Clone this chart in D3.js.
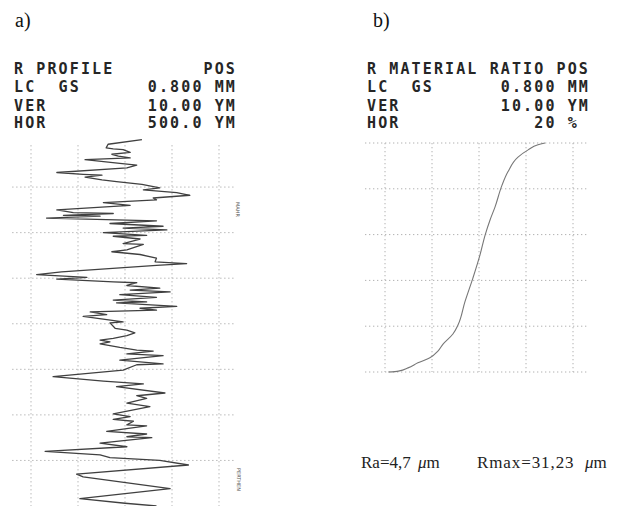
<!DOCTYPE html>
<html>
<head>
<meta charset="utf-8">
<script src="https://cdn.jsdelivr.net/npm/d3@7/dist/d3.min.js"></script>
<style>
  html, body { margin: 0; padding: 0; background: #fff; }
  svg { display: block; }
  .hdr { font-family: "DejaVu Sans Mono", monospace; font-size: 15px; font-weight: bold; letter-spacing: 2.12px; white-space: pre; fill: #262626; }
  .lbl { font-family: "Liberation Serif", "Times New Roman", serif; font-size: 20px; fill: #111; }
  .res { font-family: "Liberation Serif", "Times New Roman", serif; font-size: 17px; fill: #222; }
  .tiny { font-family: "DejaVu Sans", sans-serif; font-size: 5px; fill: #555; }
</style>
</head>
<body>
<script>
// ---------- data ----------
// panel a) roughness profile: length along trace (mm) and amplitude (µm)
const profileLen = [-0.02,0.03,0.07,0.08,0.09,0.12,0.14,0.16,0.18,0.20,0.24,0.26,0.29,0.34,0.36,0.37,0.39,0.42,0.44,0.47,
  0.51,0.53,0.56,0.59,0.62,0.64,0.67,0.70,0.75,0.78,0.79,0.81,0.82,0.84,0.87,0.90,0.93,0.95,0.97,1.00,
  1.03,1.04,1.07,1.12,1.13,1.19,1.21,1.24,1.28,1.32,1.34,1.36,1.43,1.46,1.49,1.51,1.54,1.55,1.58,1.61,
  1.63,1.65,1.68,1.71,1.74,1.76,1.77,1.81,1.83,1.85,1.87,1.90,1.92,1.98,1.99,2.05,2.07,2.10,2.13,2.16,
  2.18,2.20,2.22,2.26,2.29,2.30,2.33,2.35,2.40,2.44,2.45,2.51,2.58,2.63,2.66,2.69,2.76,2.79,2.82,2.87,
  2.91,2.99,3.02,3.05,3.07,3.11,3.12,3.18,3.21,3.24,3.25,3.31,3.35,3.40,3.44,3.47,3.50,3.55,3.65,3.68,
  3.81,3.92,3.97,4.00];
const profileAmp = [3.6,-3.6,-4.0,-2.5,-0.4,1.1,-2.8,-1.4,1.1,-8.5,-1.1,2.5,0.4,-14.5,-8.9,-4.9,-8.5,-4.9,-1.8,3.6,
  7.4,3.9,11.0,13.8,6.0,6.7,-4.6,1.1,-14.5,-11.0,-2.5,-13.1,-5.3,-16.7,6.7,-3.2,8.1,-0.4,8.9,-4.6,
  4.6,-2.5,3.2,-0.4,3.9,0.4,-2.8,3.2,6.7,6.4,13.1,6.7,-13.5,-18.8,-8.1,-14.5,-2.5,2.5,0.4,7.4,
  1.1,9.6,-1.1,6.7,-2.5,4.6,-1.8,11.0,3.2,6.7,-7.4,-3.9,-8.9,-0.4,-3.2,-2.1,0.4,2.1,0.4,-2.5,
  -5.3,-3.2,-5.3,-1.1,2.5,6.0,0.4,8.1,-1.1,8.1,2.5,-0.4,-15.3,-4.6,3.9,-1.8,8.5,2.5,4.6,0.4,
  5.3,-2.5,1.1,-2.5,1.8,0.4,4.6,-3.9,4.6,0.4,5.7,-5.3,0.4,-17.0,-5.3,-3.2,7.4,13.5,-10.3,-8.9,
  9.6,-9.6,0.0,6.7];
const profAmpTicks = [-20, -10, 0, 10, 20];
const profLenTicks = [0.5, 1.0, 1.5, 2.0, 2.5, 3.0, 3.5];

// panel b) material ratio curve: material ratio (%) and depth (µm)
const ratioPct   = [1.4,5.7,9.8,14.0,19.1,22.6,24.7,28.9,31.1,34.0,37.4,40.4,42.6,44.7,46.8,49.8,52.3,56.6,60.9,65.1,68.1];
const ratioDepth = [50.0,49.8,49.1,48.0,46.9,45.4,43.9,41.7,39.7,34.7,29.5,24.5,20.1,16.8,14.0,9.2,6.3,3.1,1.5,0.4,0.0];
const ratioPctTicks = [0, 20, 40, 60, 80];
const ratioDepthTicks = [0, 10, 20, 30, 40, 50];

const headerA = ["R PROFILE        POS", "LC  GS      0.800 MM", "VER         10.00 YM", "HOR         500.0 YM"];
const headerB = ["R MATERIAL RATIO POS", "LC  GS      0.800 MM", "VER         10.00 YM", "HOR            20 %"];
const resultRa = ["Ra=4,7", "\u03bc", "m"];
const resultRmax = ["Rmax=31,23", "\u03bc", "m"];

// ---------- drawing ----------
const W = 617, H = 506;
const svg = d3.select("body").append("svg").attr("width", W).attr("height", H);
svg.append("rect").attr("width", W).attr("height", H).attr("fill", "#fff");

const gridStyle = sel => sel.attr("stroke", "#b0b0b0").attr("stroke-width", 1)
  .attr("stroke-dasharray", "1.3,2.7").attr("fill", "none");

// panel labels
svg.append("text").attr("class", "lbl").attr("x", 15).attr("y", 27).text("a)");
svg.append("text").attr("class", "lbl").attr("x", 373).attr("y", 27).text("b)");

// headers
const baselines = [74, 92, 110.5, 128.3];
svg.selectAll(".hA").data(headerA).join("text").attr("class", "hdr")
  .attr("x", 14).attr("y", (d, i) => baselines[i]).text(d => d);
svg.selectAll(".hB").data(headerB).join("text").attr("class", "hdr")
  .attr("x", 367).attr("y", (d, i) => baselines[i]).text(d => d);

// ----- panel a -----
const xA = d3.scaleLinear().domain([-20, 20]).range([31, 219]);
const yA = d3.scaleLinear().domain([0, 4]).range([141.5, 506]);
const gA = svg.append("g");
gA.selectAll(".vg").data(profAmpTicks).join("line")
  .attr("x1", d => xA(d)).attr("x2", d => xA(d))
  .attr("y1", yA(0.04)).attr("y2", yA(4)).call(gridStyle);
gA.selectAll(".hg").data(profLenTicks).join("line")
  .attr("x1", xA(-24)).attr("x2", xA(23.3))
  .attr("y1", d => yA(d)).attr("y2", d => yA(d)).call(gridStyle);

const profPts = profileLen.map((l, i) => [profileAmp[i], l]);
gA.append("path").datum(profPts)
  .attr("d", d3.line().x(d => xA(d[0])).y(d => yA(d[1])))
  .attr("fill", "none").attr("stroke", "#404040").attr("stroke-width", 1.3)
  .attr("stroke-linejoin", "round");

gA.append("text").attr("class", "tiny").attr("transform", `translate(236,202) rotate(90)`).text("MAHR");
gA.append("text").attr("class", "tiny").attr("transform", `translate(237,468) rotate(90)`).text("PERTHEN");

// ----- panel b -----
const xB = d3.scaleLinear().domain([0, 80]).range([385, 573]);
const yB = d3.scaleLinear().domain([0, 50]).range([143, 372]);
const gB = svg.append("g");
gB.selectAll(".vg").data(ratioPctTicks).join("line")
  .attr("x1", d => xB(d)).attr("x2", d => xB(d))
  .attr("y1", yB(0)).attr("y2", yB(50)).call(gridStyle);
gB.selectAll(".hg").data(ratioDepthTicks).join("line")
  .attr("x1", xB(-8.5)).attr("x2", xB(86.4))
  .attr("y1", d => yB(d)).attr("y2", d => yB(d)).call(gridStyle);

const ratioPts = ratioPct.map((p, i) => [p, ratioDepth[i]]);
gB.append("path").datum(ratioPts)
  .attr("d", d3.line().x(d => xB(d[0])).y(d => yB(d[1])).curve(d3.curveMonotoneY))
  .attr("fill", "none").attr("stroke", "#777").attr("stroke-width", 1.1);

// results text
function result(parts, x0, xmu, ls) {
  const t = svg.append("text").attr("class", "res").attr("x", x0).attr("y", 468);
  t.append("tspan").attr("letter-spacing", ls).text(parts[0]);
  t.append("tspan").attr("x", xmu).attr("font-style", "italic").text(parts[1]);
  t.append("tspan").text(parts[2]);
}
result(resultRa, 361, 418, 0);
result(resultRmax, 477, 585, 0.9);
</script>
</body>
</html>
